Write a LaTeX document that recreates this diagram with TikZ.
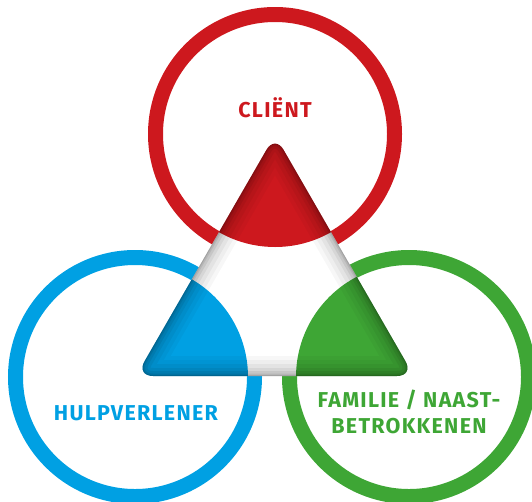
\documentclass[tikz,border=0pt]{standalone}
\usepackage{fontspec}
\setmainfont{Fira Sans}[LetterSpace=6]
\definecolor{cred}{RGB}{205,24,30}
\definecolor{cblue}{RGB}{0,160,227}
\definecolor{cgreen}{RGB}{62,166,53}
\begin{document}
\begin{tikzpicture}[x=1pt,y=-1pt,
  ring/.style={line width=15pt},
  lbl/.style={font=\fontsize{21.5}{25.5}\selectfont\bfseries, align=center, inner sep=0pt},
  tri/.style={rounded corners=17pt}]
\useasboundingbox (0,0) rectangle (532,501);
\coordinate (rc) at (275,134);
\coordinate (bc) at (135,377);
\coordinate (gc) at (409,377);
\coordinate (A) at (275,135);
\coordinate (B) at (136,376);
\coordinate (C) at (414,376);
% rings
\draw[ring, cred] (rc) circle (119.5);
\draw[ring, cblue] (bc) circle (119.5);
\draw[ring, cgreen] (gc) circle (119.5);
% triangle
\begin{scope}
  \clip[tri] (A) -- (B) -- (C) -- cycle;
  \fill[white] (0,0) rectangle (532,501);
  \fill[cred] (rc) circle (113);
  \fill[cblue] (bc) circle (113);
  \fill[cgreen] (gc) circle (113);
  \foreach \w/\o in {40/0.03,32/0.035,24/0.045,16/0.055,10/0.07,5/0.08,2/0.1}{
    \draw[tri, black, opacity=\o, line width=\w pt] (A) -- (B) -- (C) -- cycle;
  }
\end{scope}
% labels
\node[lbl, text=cred] (client) at (275,107.5) {CLIËNT};
\node[lbl, text=cblue] (hulp) at (136,413.5) {HULPVERLENER};
\node[lbl, text=cgreen] (fam) at (409,412) {FAMILIE / NAAST-\\BETROKKENEN};
\end{tikzpicture}
\end{document}
